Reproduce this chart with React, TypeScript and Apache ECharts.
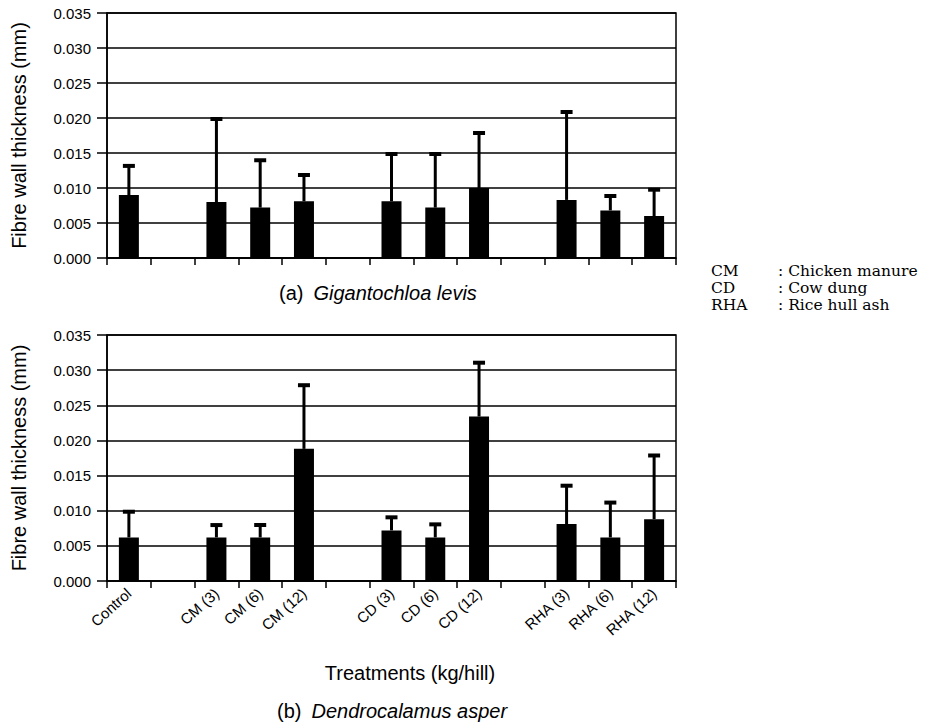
import React, { useEffect, useRef } from "react";
import * as echarts from "echarts";

const categories = ["Control", "", "CM (3)", "CM (6)", "CM (12)", "", "CD (3)", "CD (6)", "CD (12)", "", "RHA (3)", "RHA (6)", "RHA (12)"];
const levisMean = [0.009, null, 0.008, 0.0072, 0.0081, null, 0.0081, 0.0072, 0.01, null, 0.0083, 0.0068, 0.006];
const levisUpper = [0.0133, null, 0.02, 0.0141, 0.012, null, 0.015, 0.015, 0.018, null, 0.021, 0.009, 0.0099];
const asperMean = [0.0062, null, 0.0062, 0.0062, 0.0188, null, 0.0072, 0.0062, 0.0234, null, 0.0081, 0.0062, 0.0088];
const asperUpper = [0.01, null, 0.0081, 0.0081, 0.028, null, 0.0092, 0.0082, 0.0312, null, 0.0137, 0.0113, 0.018];
const legendAbbr = ["CM", "CD", "RHA"];
const legendFull = [": Chicken manure", ": Cow dung", ": Rice hull ash"];

const SANS = "'Liberation Sans', Arial, Helvetica, sans-serif";
const SERIF = "'DejaVu Serif', 'Liberation Serif', serif";

function errData(mean: (number | null)[], upper: (number | null)[]) {
  const out: number[][] = [];
  mean.forEach((m, i) => {
    const u = upper[i];
    if (m != null && u != null) out.push([i, m, u]);
  });
  return out;
}

const renderErr = (_params: any, api: any) => {
  const x = api.value(0);
  const lo = api.coord([x, api.value(1)]);
  const hi = api.coord([x, api.value(2)]);
  return {
    type: "group",
    children: [
      { type: "line", shape: { x1: hi[0], y1: lo[1], x2: hi[0], y2: hi[1] }, style: { stroke: "#000", lineWidth: 3 } },
      { type: "rect", shape: { x: hi[0] - 6, y: hi[1] - 1, width: 12, height: 4 }, style: { fill: "#000" } },
    ],
  };
};

export default function App() {
  const ref = useRef<HTMLDivElement>(null);
  useEffect(() => {
    document.body.style.margin = "0";
    if (!ref.current) return;
    const chart = echarts.init(ref.current, undefined, { renderer: "svg" });
    const yAxisBase = (gridIndex: number) => ({
      type: "value",
      gridIndex,
      min: 0,
      max: 0.035,
      interval: 0.005,
      name: "Fibre wall thickness (mm)",
      nameLocation: "middle",
      nameGap: 78,
      nameTextStyle: { fontFamily: SANS, fontSize: 20, color: "#000" },
      axisLine: { show: true, lineStyle: { color: "#000", width: 1.5 } },
      axisTick: { show: true, length: 10, lineStyle: { color: "#000", width: 1.5 } },
      axisLabel: { fontFamily: SANS, fontSize: 15, color: "#000", margin: 16, formatter: (v: number) => v.toFixed(3) },
      splitLine: { show: true, lineStyle: { color: "#000", width: 1.5 } },
    });
    const xAxisBase = (gridIndex: number, showLabels: boolean) => ({
      type: "category",
      gridIndex,
      data: categories,
      axisLine: { show: true, lineStyle: { color: "#000", width: 1.5 } },
      axisTick: { show: true, interval: 0, length: 7, lineStyle: { color: "#000", width: 1.5 } },
      axisLabel: { show: showLabels, interval: 0, rotate: 42, fontFamily: SANS, fontSize: 15, color: "#000", margin: 10 },
      splitLine: { show: false },
    });
    const rich = {
      n: { fontFamily: SANS, fontSize: 20, color: "#000" },
      i: { fontFamily: SANS, fontSize: 20, fontStyle: "italic", color: "#000" },
    };
    chart.setOption({
      animation: false,
      backgroundColor: "#fff",
      grid: [
        { left: 107, top: 13, width: 569, height: 245, show: true, borderColor: "#000", borderWidth: 1.5, backgroundColor: "transparent" },
        { left: 107, top: 335, width: 569, height: 246, show: true, borderColor: "#000", borderWidth: 1.5, backgroundColor: "transparent" },
      ],
      xAxis: [xAxisBase(0, false), xAxisBase(1, true)],
      yAxis: [yAxisBase(0), yAxisBase(1)],
      series: [
        { type: "bar", xAxisIndex: 0, yAxisIndex: 0, data: levisMean, barWidth: 20, itemStyle: { color: "#000" } },
        { type: "bar", xAxisIndex: 1, yAxisIndex: 1, data: asperMean, barWidth: 20, itemStyle: { color: "#000" } },
        { type: "custom", xAxisIndex: 0, yAxisIndex: 0, data: errData(levisMean, levisUpper), renderItem: renderErr, encode: { x: 0, y: [1, 2] }, z: 5 },
        { type: "custom", xAxisIndex: 1, yAxisIndex: 1, data: errData(asperMean, asperUpper), renderItem: renderErr, encode: { x: 0, y: [1, 2] }, z: 5 },
      ],
      graphic: [
        { type: "text", left: 279, top: 283, style: { text: "{n|(a)}   {i|Gigantochloa levis}", rich } },
        { type: "text", left: 277, top: 701, style: { text: "{n|(b)}   {i|Dendrocalamus asper}", rich } },
        { type: "text", x: 410, y: 673, style: { text: "Treatments (kg/hill)", fontFamily: SANS, fontSize: 20, fill: "#000", align: "center", verticalAlign: "middle" } },
        ...legendAbbr.map((t, k) => ({
          type: "text", x: 711, y: 271 + k * 17,
          style: { text: t, fontFamily: SERIF, fontSize: 15.5, lineHeight: 16, fill: "#000", verticalAlign: "middle" },
        })),
        ...legendFull.map((t, k) => ({
          type: "text", x: 778, y: 271 + k * 17,
          style: { text: t, fontFamily: SERIF, fontSize: 15.5, lineHeight: 16, fill: "#000", verticalAlign: "middle" },
        })),
      ],
    });
    return () => chart.dispose();
  }, []);
  return <div ref={ref} style={{ width: 945, height: 722 }} />;
}
